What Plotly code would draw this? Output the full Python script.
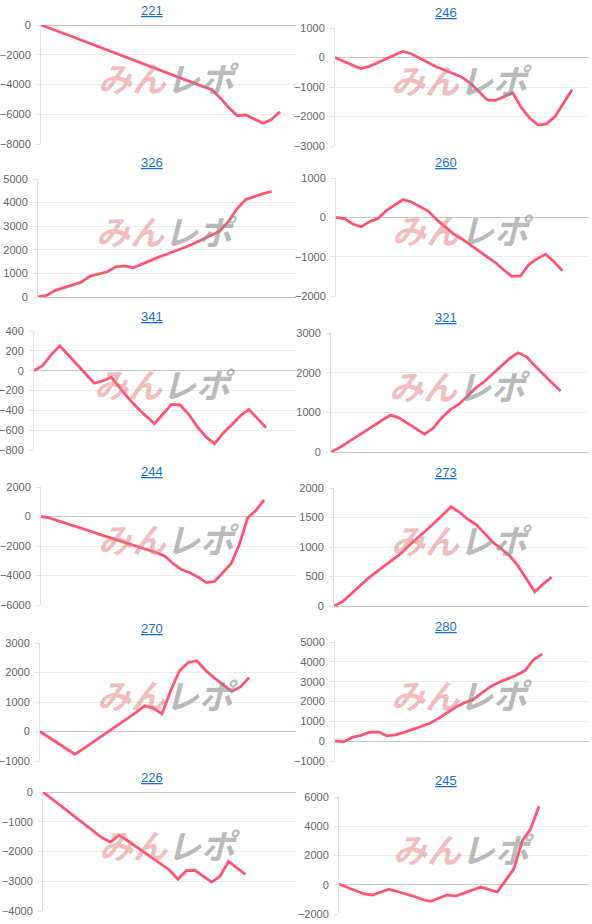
import plotly.graph_objects as go

# ---------------- data ----------------
titles = ["221", "246", "326", "260", "341", "321",
          "244", "273", "270", "280", "226", "245"]

s221 = [0, -200, -420, -640, -860, -1080, -1300, -1510, -1730, -1950, -2170,
        -2390, -2600, -2820, -3040, -3260, -3480, -3700, -3920, -4140, -4330,
        -4900, -5550, -6100, -6050, -6300, -6600, -6350, -5830]
s246 = [0, -120, -240, -370, -310, -180, -50, 75, 205, 128, -20, -170, -320,
        -433, -550, -667, -877, -1157, -1440, -1450, -1315, -1200, -1690,
        -2050, -2290, -2250, -2000, -1550, -1090]
s326 = [0, 70, 280, 400, 520, 630, 880, 970, 1070, 1280, 1320, 1240, 1400,
        1550, 1700, 1830, 1960, 2110, 2270, 2440, 2620, 2790, 3200, 3740, 4130,
        4270, 4380, 4470]
s260 = [0, -30, -170, -240, -110, -30, 170, 310, 450, 390, 280, 160, -60,
        -250, -420, -550, -700, -840, -990, -1150, -1340, -1500, -1490, -1200,
        -1050, -940, -1130, -1360]
s341 = [0, 50, 160, 250, 158, 64, -29, -127, -104, -67, -173, -280, -373,
        -455, -535, -437, -340, -346, -440, -564, -668, -738, -631, -545, -456,
        -391, -480, -575]
s321 = [0, 110, 250, 380, 520, 660, 800, 930, 862, 730, 590, 450, 597, 860,
        1060, 1200, 1400, 1610, 1770, 1960, 2160, 2360, 2500, 2400, 2170, 1950,
        1740, 1540]
s244 = [0, -100, -280, -450, -640, -820, -1000, -1190, -1370, -1550, -1740,
        -1920, -2100, -2280, -2460, -2700, -3200, -3600, -3810, -4100, -4480,
        -4400, -3800, -3200, -1900, -100, 410, 1130]
s273 = [0, 70, 200, 330, 460, 570, 680, 790, 890, 1030, 1150, 1280, 1410,
        1540, 1680, 1590, 1470, 1380, 1230, 1080, 970, 850, 680, 450, 240, 370,
        490]
s270 = [0, -200, -400, -590, -770, -580, -380, -180, 30, 230, 440, 640, 870,
        796, 600, 1390, 2050, 2340, 2400, 2070, 1820, 1590, 1360, 1510, 1830]
s280 = [0, -30, 190, 290, 450, 470, 270, 320, 440, 590, 730, 900, 1150, 1420,
        1720, 1940, 2100, 2430, 2750, 2970, 3140, 3320, 3560, 4120, 4390]
s226 = [0, -220, -440, -660, -880, -1100, -1320, -1540, -1680, -1450, -1630,
        -1830, -2030, -2220, -2420, -2620, -2930, -2645, -2630, -2830, -3030,
        -2830, -2330, -2550, -2770]
s245 = [50, -170, -400, -630, -700, -490, -310, -460, -620, -790, -1010,
        -1130, -910, -700, -780, -600, -370, -160, -330, -500, 300, 1100, 3010,
        3830, 5360]

series = [s221, s246, s326, s260, s341, s321,
          s244, s273, s270, s280, s226, s245]

y_ranges = [(-8000, 0), (-3000, 1000), (0, 5000), (-2000, 1000),
            (-800, 400), (0, 3000), (-6000, 2000), (0, 2000),
            (-1000, 3000), (-1000, 5000), (-4000, 0), (-2000, 6000)]
y_dticks = [2000, 1000, 1000, 1000, 200, 1000, 2000, 500, 1000, 1000, 1000, 2000]

# ---------------- layout / style ----------------
W, H = 592, 924
end_frac = [0.937, 0.933, 0.906, 0.895, 0.886, 0.89,
            0.875, 0.853, 0.817, 0.816, 0.80, 0.80]
axis_left = [41, 335, 38, 336, 34, 331, 41, 334, 40, 335, 43, 339]
axis_right = [296, 589] * 6
tops = [25, 28, 179, 178, 331, 333, 487, 488, 643, 642, 792, 797]
bottoms = [144, 146, 297, 296, 450, 452, 605, 606, 761, 761, 911, 914]
title_y = [11, 12, 163, 162, 316, 318, 471, 472, 628, 626, 777, 780]
title_x = [152, 446] * 6

LINE = "#ff5573"
GRID = "#ececec"
AXIS = "#e2e2e2"
ZERO = "#c8c8c8"
TICK_FONT = dict(family="Liberation Sans, Arial, sans-serif", size=11, color="#666666")

fig = go.Figure()
annotations = []
layout_axes = {}

for i, vals in enumerate(series):
    n = i + 1
    sfx = "" if n == 1 else str(n)
    xa, ya = "x" + sfx, "y" + sfx
    fig.add_trace(go.Scatter(
        x=list(range(len(vals))), y=vals, mode="lines",
        line=dict(color=LINE, width=2.8, shape="linear"),
        xaxis=xa, yaxis=ya, hoverinfo="skip", showlegend=False))

    layout_axes["xaxis" + sfx] = dict(
        domain=[axis_left[i] / W, axis_right[i] / W],
        range=[0, (len(vals) - 1) / end_frac[i]],
        anchor=ya, showticklabels=False, showgrid=False, zeroline=False,
        showline=False, ticks="", fixedrange=True, automargin=False)
    layout_axes["yaxis" + sfx] = dict(
        domain=[1 - bottoms[i] / H, 1 - tops[i] / H],
        range=list(y_ranges[i]), dtick=y_dticks[i], tick0=0,
        anchor=xa, showline=True, linecolor=AXIS, linewidth=1,
        showgrid=True, gridcolor=GRID, gridwidth=1,
        zeroline=True, zerolinecolor=ZERO, zerolinewidth=1,
        ticks="outside", ticklen=4, tickcolor=AXIS,
        ticklabelstandoff=3, tickfont=TICK_FONT, fixedrange=True,
        automargin=False)

    annotations.append(dict(
        text="<u>" + titles[i] + "</u>", x=title_x[i] / W, y=1 - title_y[i] / H,
        xref="paper", yref="paper", showarrow=False, xanchor="center",
        yanchor="middle",
        font=dict(family="Liberation Sans, Arial, sans-serif", size=13,
                  color="#1a6fd4")))
    # watermark
    annotations.append(dict(
        text=("<b><i><span style='color:rgba(225,125,125,0.5)'>みん</span>"
              "<span style='color:rgba(140,140,140,0.6)'>レポ</span></i></b>"),
        x=0.5, y=0.56, xref=xa + " domain", yref=ya + " domain",
        showarrow=False, xanchor="center", yanchor="middle",
        font=dict(family="Noto Sans CJK JP", size=34)))

fig.update_layout(
    width=W, height=H, margin=dict(l=0, r=0, t=0, b=0, autoexpand=False),
    paper_bgcolor="white", plot_bgcolor="white",
    annotations=annotations, showlegend=False, **layout_axes)

fig.write_html("out.html", config={"displayModeBar": False},
               post_script="document.body.style.margin='0';"
                           "document.body.style.overflow='hidden';")
